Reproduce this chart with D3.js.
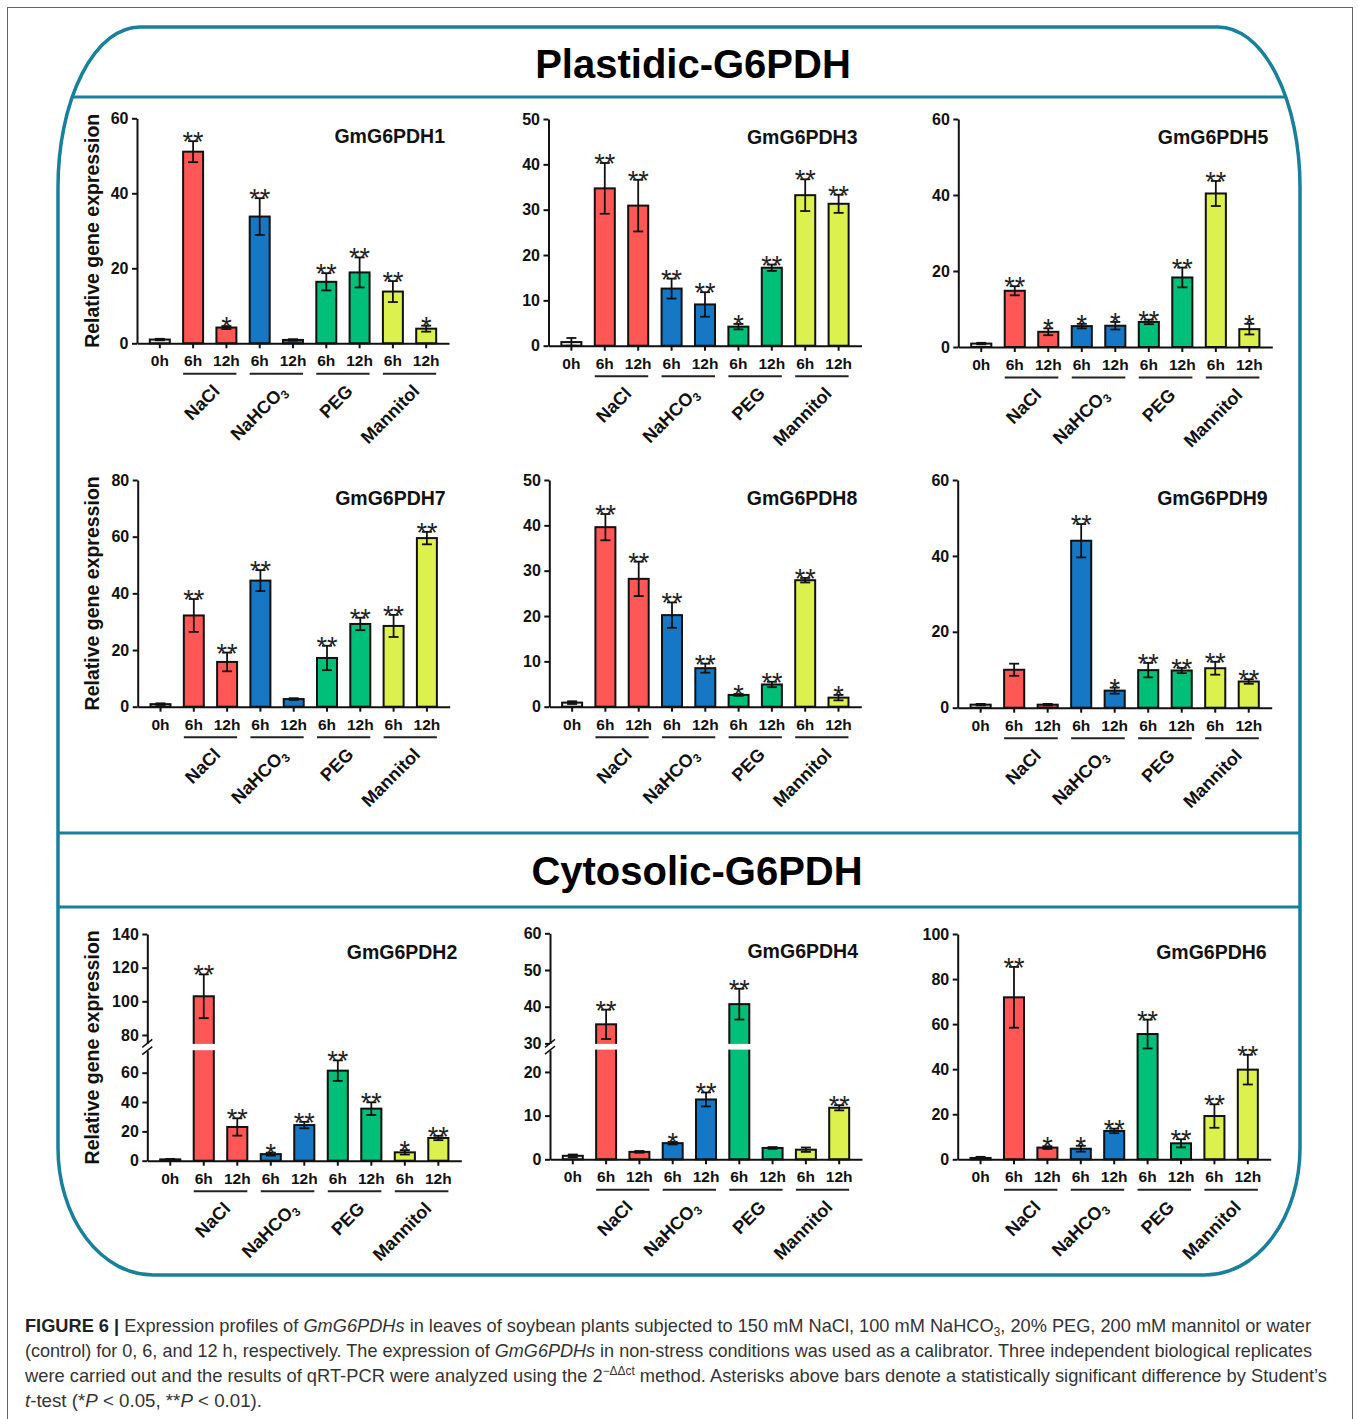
<!DOCTYPE html>
<html><head><meta charset="utf-8">
<script src="https://cdn.jsdelivr.net/npm/d3@7"></script>
<style>
body{margin:0;background:#fff;position:relative;}
svg{display:block;font-family:"Liberation Sans",Arial,Helvetica,sans-serif;}
.cap{position:absolute;left:25px;white-space:nowrap;font-family:"Liberation Sans Narrow","Liberation Sans",Arial,sans-serif;
  font-size:18.5px;line-height:18.5px;color:#333;transform-origin:0 0;}
.cap b{color:#222;}
.cap .sb{position:relative;top:4px;font-size:12px;}
.cap .sp{position:relative;top:-7px;font-size:12px;}
</style>
</head><body>
<svg id="chart" width="1358" height="1419"></svg>
<script>
// ---------- data ----------
const timeLabels = ["0h","6h","12h","6h","12h","6h","12h","6h","12h"];
const treatmentOfBar = [0,1,1,2,2,3,3,4,4];
const groupNames = ["NaCl","NaHCO3","PEG","Mannitol"];
const barColors = ["#eeeeee","#ff5656","#1677c4","#00bf78","#dcf14e"];

const g1Mean = [1.0,51.1,4.2,33.8,0.9,16.4,18.9,13.8,3.9];
const g1Err  = [0.2,2.8,0.4,4.9,0.2,2.3,4.0,2.8,0.8];
const g1Sig  = ["","**","*","**","","**","**","**","*"];
const g1Ticks = [0,20,40,60];

const g3Mean = [0.8,34.7,30.9,12.6,9.1,4.2,17.2,33.2,31.3];
const g3Err  = [0.9,5.6,5.7,2.2,2.7,0.6,0.7,3.5,2.0];
const g3Sig  = ["","**","**","**","**","*","**","**","**"];
const g3Ticks = [0,10,20,30,40,50];

const g5Mean = [0.9,14.8,4.0,5.5,5.6,6.6,18.3,40.4,4.7];
const g5Err  = [0.2,1.2,0.9,0.6,1.0,0.6,2.6,3.3,1.4];
const g5Sig  = ["","**","*","*","*","**","**","**","*"];
const g5Ticks = [0,20,40,60];

const g7Mean = [0.9,32.2,15.8,44.5,2.7,17.2,29.2,28.5,59.5];
const g7Err  = [0.3,5.8,3.3,3.7,0.3,4.3,2.2,3.9,2.2];
const g7Sig  = ["","**","**","**","","**","**","**","**"];
const g7Ticks = [0,20,40,60,80];

const g8Mean = [0.9,39.6,28.2,20.2,8.5,2.6,4.9,27.9,2.0];
const g8Err  = [0.3,2.9,3.8,2.8,1.0,0.2,0.6,0.5,0.6];
const g8Sig  = ["","**","**","**","**","*","**","**","*"];
const g8Ticks = [0,10,20,30,40,50];

const g9Mean = [0.8,10.0,0.8,44.0,4.5,9.9,9.8,10.4,6.9];
const g9Err  = [0.2,1.6,0.2,4.4,0.8,1.9,0.7,1.7,0.6];
const g9Sig  = ["","","","**","*","**","**","**","**"];
const g9Ticks = [0,20,40,60];

const g2Mean = [0.9,103.0,23.0,4.5,24.3,61.4,35.5,5.7,15.5];
const g2Err  = [0.3,13.0,5.9,1.0,2.2,7.0,4.3,1.5,1.5];
const g2Sig  = ["","**","**","*","**","**","**","*","**"];
const g2TicksLow = [0,20,40,60];
const g2TicksHigh = [80,100,120,140];
const g2Break = [75,75];

const g4Mean = [0.8,35.2,1.7,3.7,13.7,40.7,2.6,2.2,11.8];
const g4Err  = [0.3,4.0,0.2,0.3,1.6,4.2,0.2,0.5,0.6];
const g4Sig  = ["","**","","*","**","**","","","**"];
const g4TicksLow = [0,10,20];
const g4TicksHigh = [30,40,50,60];
const g4Break = [25,30];

const g6Mean = [0.6,71.9,5.2,4.7,12.6,55.6,7.1,19.2,39.8];
const g6Err  = [0.5,13.5,0.6,1.3,1.0,6.4,1.8,5.2,6.6];
const g6Sig  = ["","**","*","*","**","**","**","**","**"];
const g6Ticks = [0,20,40,60,80,100];

// ---------- layout ----------
const TEAL = "#18809b";
const INK = "#111";
const FONT = '"Liberation Sans",Arial,Helvetica,sans-serif';
const svg = d3.select("#chart");

const panels = [
  {name:"GmG6PDH1", mean:g1Mean, err:g1Err, sig:g1Sig, ticks:g1Ticks, x0:137, w:312, top:118.3, bottom:343.3, ylab:true},
  {name:"GmG6PDH3", mean:g3Mean, err:g3Err, sig:g3Sig, ticks:g3Ticks, x0:548.5, w:313, top:119, bottom:345.7},
  {name:"GmG6PDH5", mean:g5Mean, err:g5Err, sig:g5Sig, ticks:g5Ticks, x0:958.3, w:314, top:119, bottom:347},
  {name:"GmG6PDH7", mean:g7Mean, err:g7Err, sig:g7Sig, ticks:g7Ticks, x0:137.7, w:312, top:480, bottom:706.7, ylab:true},
  {name:"GmG6PDH8", mean:g8Mean, err:g8Err, sig:g8Sig, ticks:g8Ticks, x0:549.3, w:312, top:480, bottom:706.7},
  {name:"GmG6PDH9", mean:g9Mean, err:g9Err, sig:g9Sig, ticks:g9Ticks, x0:957.7, w:314, top:480, bottom:707.7},
  {name:"GmG6PDH2", mean:g2Mean, err:g2Err, sig:g2Sig, ticksLow:g2TicksLow, ticksHigh:g2TicksHigh, brk:g2Break,
     yLo:1050.7, yHi:1043.4, x0:147.3, w:314, top:934, bottom:1160.7, ylab:true},
  {name:"GmG6PDH4", mean:g4Mean, err:g4Err, sig:g4Sig, ticksLow:g4TicksLow, ticksHigh:g4TicksHigh, brk:g4Break,
     yLo:1050.1, yHi:1043.4, x0:550, w:312, top:933.3, bottom:1159.3},
  {name:"GmG6PDH6", mean:g6Mean, err:g6Err, sig:g6Sig, ticks:g6Ticks, x0:957.7, w:313, top:934, bottom:1159.3}
];

// ---------- outer frame ----------
svg.append("rect").attr("x",7.5).attr("y",7.5).attr("width",1345).attr("height",1440)
  .attr("fill","none").attr("stroke","#666").attr("stroke-width",1);

const framePath = "M140,27 H1218 A82,160 0 0 1 1300,187 V1148 A95,127 0 0 1 1205,1275 H153 A95,127 0 0 1 58,1148 V187 A82,160 0 0 1 140,27 Z";
svg.append("defs").append("clipPath").attr("id","fc").append("path").attr("d",framePath);
[97,833,907].forEach(yy=>{
  svg.append("line").attr("x1",40).attr("x2",1320).attr("y1",yy).attr("y2",yy)
    .attr("stroke",TEAL).attr("stroke-width",3.2).attr("clip-path","url(#fc)");
});
svg.append("path").attr("d",framePath).attr("fill","none").attr("stroke",TEAL).attr("stroke-width",3.5);

svg.append("text").attr("x",693).attr("y",78).attr("text-anchor","middle")
  .attr("font-size",40).attr("font-weight","bold").attr("fill","#000").text("Plastidic-G6PDH");
svg.append("text").attr("x",697).attr("y",885).attr("text-anchor","middle")
  .attr("font-size",40).attr("font-weight","bold").attr("fill","#000").text("Cytosolic-G6PDH");

function styleAxis(g, fs){
  g.attr("font-family",FONT).attr("font-size",fs).attr("font-weight","bold");
  g.select(".domain").attr("stroke",INK).attr("stroke-width",2);
  g.selectAll(".tick line").attr("stroke",INK).attr("stroke-width",2);
  g.selectAll(".tick text").attr("fill",INK);
}

function drawPanel(p){
  const g = svg.append("g");
  const x = d3.scaleBand().domain(d3.range(9)).range([p.x0, p.x0+p.w]).paddingInner(0.4).paddingOuter(0.385);
  const bw = x.bandwidth();
  const cx = i => x(i) + bw/2;
  let y, yLow, yHigh;
  if (p.brk){
    const topVal = p.ticksHigh[p.ticksHigh.length-1];
    yLow = d3.scaleLinear().domain([0,p.brk[0]]).range([p.bottom,p.yLo]);
    yHigh = d3.scaleLinear().domain([p.brk[1],topVal]).range([p.yHi,p.top]);
    y = v => v <= p.brk[0] ? yLow(v) : yHigh(v);
  } else {
    const sc = d3.scaleLinear().domain([0,p.ticks[p.ticks.length-1]]).range([p.bottom,p.top]);
    y = sc; yLow = sc;
  }

  // bars
  g.selectAll("rect.bar").data(p.mean).join("rect").attr("class","bar")
    .attr("x",(d,i)=>x(i)).attr("width",bw)
    .attr("y",d=>y(d)).attr("height",d=>p.bottom-y(d))
    .attr("fill",(d,i)=>barColors[treatmentOfBar[i]])
    .attr("stroke",INK).attr("stroke-width",2);

  // break gaps on tall bars
  if (p.brk){
    g.selectAll("rect.gap").data(p.mean.map((d,i)=>({d,i})).filter(o=>o.d>p.brk[0])).join("rect")
      .attr("x",o=>x(o.i)-2).attr("width",bw+4)
      .attr("y",p.yHi+0.5).attr("height",p.yLo-p.yHi-1)
      .attr("fill","#fff");
  }

  // error bars
  const eb = g.selectAll("g.eb").data(p.mean.map((d,i)=>({m:d,e:p.err[i],i}))).join("g");
  eb.append("line").attr("x1",o=>cx(o.i)).attr("x2",o=>cx(o.i))
    .attr("y1",o=>y(Math.max(0,o.m-o.e))).attr("y2",o=>y(o.m+o.e))
    .attr("stroke",INK).attr("stroke-width",1.8);
  eb.append("line").attr("x1",o=>cx(o.i)-5).attr("x2",o=>cx(o.i)+5)
    .attr("y1",o=>y(o.m+o.e)).attr("y2",o=>y(o.m+o.e))
    .attr("stroke",INK).attr("stroke-width",1.8);
  eb.append("line").attr("x1",o=>cx(o.i)-5).attr("x2",o=>cx(o.i)+5)
    .attr("y1",o=>y(Math.max(0,o.m-o.e))).attr("y2",o=>y(Math.max(0,o.m-o.e)))
    .attr("stroke",INK).attr("stroke-width",1.8);

  // significance
  g.selectAll("text.sig").data(p.sig.map((s,i)=>({s,i}))).join("text").attr("class","sig")
    .attr("x",o=>cx(o.i)).attr("y",o=>y(p.mean[o.i]+p.err[o.i])+10)
    .attr("text-anchor","middle").attr("font-size",27).attr("fill","#222")
    .text(o=>o.s);

  // y axis
  if (p.brk){
    const a1 = g.append("g").attr("transform",`translate(${p.x0},0)`)
      .call(d3.axisLeft(yLow).tickValues(p.ticksLow).tickSize(5).tickSizeOuter(0).tickPadding(3.5));
    styleAxis(a1,16);
    const a2 = g.append("g").attr("transform",`translate(${p.x0},0)`)
      .call(d3.axisLeft(yHigh).tickValues(p.ticksHigh).tickSize(5).tickSizeOuter(0).tickPadding(3.5));
    styleAxis(a2,16);
    [p.yHi, p.yLo].forEach(yy=>{
      g.append("line").attr("x1",p.x0-5).attr("x2",p.x0+5).attr("y1",yy+4).attr("y2",yy-4)
        .attr("stroke",INK).attr("stroke-width",1.5);
    });
  } else {
    const a = g.append("g").attr("transform",`translate(${p.x0},0)`)
      .call(d3.axisLeft(y).tickValues(p.ticks).tickSize(5).tickSizeOuter(0).tickPadding(3.5));
    styleAxis(a,16);
  }

  // x axis
  const ax = g.append("g").attr("transform",`translate(0,${p.bottom})`)
    .call(d3.axisBottom(x).tickSize(5).tickSizeOuter(0).tickPadding(7).tickFormat(i=>timeLabels[i]));
  styleAxis(ax,15.5);

  // group underlines + rotated labels
  groupNames.forEach((name,k)=>{
    const i1 = 2*k+1, i2 = 2*k+2;
    g.append("line").attr("x1",x(i1)).attr("x2",x(i2)+bw)
      .attr("y1",p.bottom+30.5).attr("y2",p.bottom+30.5)
      .attr("stroke","#222").attr("stroke-width",2);
    const mx = (cx(i1)+cx(i2))/2 + 11, my = p.bottom + 49;
    const t = g.append("text").attr("transform",`translate(${mx},${my}) rotate(-45)`)
      .attr("text-anchor","end").attr("font-size",18).attr("font-weight","bold").attr("fill",INK);
    if (name === "NaHCO3"){
      t.append("tspan").text("NaHCO");
      t.append("tspan").attr("dy",4).attr("font-size",12).text("3");
    } else {
      t.text(name);
    }
  });

  // gene title
  g.append("text").attr("x",p.x0+p.w-4).attr("y",p.top+25).attr("text-anchor","end")
    .attr("font-size",19.5).attr("font-weight","bold").attr("fill",INK).text(p.name);

  if (p.ylab){
    g.append("text").attr("transform",`translate(99,${(p.top+p.bottom)/2}) rotate(-90)`)
      .attr("text-anchor","middle").attr("font-size",19.5).attr("font-weight","bold").attr("fill",INK)
      .text("Relative gene expression");
  }
}
panels.forEach(drawPanel);

// ---------- caption (HTML lines, each scaled to the reference line width) ----------
const capLines = [
  {base:1333, len:1286, html:'<b>FIGURE 6 |</b> Expression profiles of <i>GmG6PDHs</i> in leaves of soybean plants subjected to 150 mM NaCl, 100 mM NaHCO<span class="sb">3</span>, 20% PEG, 200 mM mannitol or water'},
  {base:1358, len:1287, html:'(control) for 0, 6, and 12 h, respectively. The expression of <i>GmG6PDHs</i> in non-stress conditions was used as a calibrator. Three independent biological replicates'},
  {base:1383, len:1302, html:'were carried out and the results of qRT-PCR were analyzed using the 2<span class="sp">\u2212\u0394\u0394ct</span> method. Asterisks above bars denote a statistically significant difference by Student\u2019s'},
  {base:1408, len:237, html:'<i>t</i>-test (*<i>P</i> &lt; 0.05, **<i>P</i> &lt; 0.01).'}
];
capLines.forEach(L=>{
  const d = d3.select("body").append("div").attr("class","cap")
    .style("top",(L.base-15.6)+"px").html(L.html);
  const wNow = d.node().getBoundingClientRect().width;
  d.style("transform",`scaleX(${L.len/wNow})`);
});
</script>
</body></html>
